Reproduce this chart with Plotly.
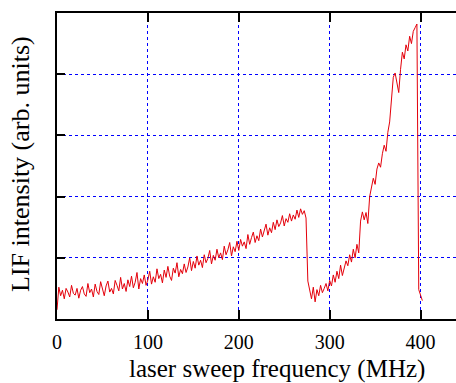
import plotly.graph_objects as go

# laser sweep frequency (MHz), 2 MHz steps
freq = list(range(0, 404, 2))

# LIF intensity (arb. units)
lif = [
    0.15, 0.52, 0.38, 0.47, 0.33, 0.50, 0.44, 0.36, 0.55, 0.42,
    0.39, 0.50, 0.34, 0.47, 0.53, 0.41, 0.37, 0.58, 0.43, 0.49,
    0.36, 0.57, 0.45, 0.40, 0.61, 0.48, 0.38, 0.54, 0.62, 0.44,
    0.50, 0.41, 0.63, 0.55, 0.46, 0.68, 0.49, 0.58, 0.45, 0.64,
    0.53, 0.70, 0.51, 0.60, 0.76, 0.49, 0.66, 0.58, 0.72, 0.55,
    0.64, 0.78, 0.57, 0.69, 0.60, 0.82, 0.66, 0.73, 0.59, 0.80,
    0.68, 0.86, 0.70, 0.63, 0.83, 0.75, 0.92, 0.69, 0.81, 0.74,
    0.90, 0.76, 0.85, 1.00, 0.79, 0.94, 0.83, 1.03, 0.88, 0.96,
    0.84, 1.05, 0.92, 0.99, 1.12, 0.90, 1.04, 0.96, 1.14, 1.00,
    1.08, 0.97, 1.19, 1.05, 1.13, 1.25, 1.03, 1.18, 1.10, 1.27,
    1.12, 1.30, 1.19, 1.26, 1.15, 1.38, 1.22, 1.33, 1.42, 1.25,
    1.36, 1.28, 1.47, 1.34, 1.43, 1.55, 1.37, 1.49, 1.41, 1.58,
    1.46, 1.62, 1.51, 1.57, 1.69, 1.52, 1.64, 1.58, 1.72, 1.60,
    1.70, 1.63, 1.78, 1.66, 1.80, 1.71, 1.77, 1.65, 0.62, 0.44,
    0.33, 0.52, 0.28, 0.48, 0.38, 0.55, 0.43, 0.50, 0.58, 0.46,
    0.63, 0.54, 0.72, 0.60, 0.78, 0.66, 0.88, 0.71, 0.82, 0.95,
    0.87, 1.05, 0.93, 1.14, 1.00, 1.22, 1.08, 1.60, 1.75, 1.62,
    1.74, 1.56, 2.00, 2.14, 2.30, 2.20, 2.45, 2.55, 2.48, 2.70,
    2.84, 2.74, 3.05, 3.22, 3.55, 3.95, 4.02, 3.85, 3.70, 4.08,
    4.36, 4.25, 4.48, 4.38, 4.62, 4.50, 4.70, 4.76, 4.82, 0.48,
    0.38, 0.30,
]

x_ticks = [0, 100, 200, 300, 400]
y_ticks = [0, 1, 2, 3, 4, 5]
x_title = "laser sweep frequency (MHz)"
y_title = "LIF intensity (arb. units)"

font_family = "Liberation Serif"

fig = go.Figure()
fig.add_trace(go.Scatter(
    x=freq, y=lif, mode="lines",
    line=dict(color="#e4000a", width=1),
    showlegend=False, hoverinfo="skip",
))

fig.update_layout(
    width=456, height=383,
    margin=dict(l=57, r=0, t=13, b=64),
    paper_bgcolor="white", plot_bgcolor="white",
    font=dict(family=font_family, color="black"),
)

fig.update_xaxes(
    range=[0, 439],
    tickvals=x_ticks,
    ticks="inside", ticklen=9, tickwidth=2, tickcolor="black",
    showline=True, linecolor="black", linewidth=2, mirror="ticks",
    showgrid=True, gridcolor="#0000ff", gridwidth=1, griddash="dot",
    zeroline=False,
    tickfont=dict(family=font_family, size=20, color="black"),
    ticklabelstandoff=4,
)

fig.update_yaxes(
    range=[0, 5],
    tickvals=y_ticks,
    showticklabels=False,
    ticks="inside", ticklen=8, tickwidth=2, tickcolor="black",
    showline=True, linecolor="black", linewidth=2, mirror=False,
    showgrid=True, gridcolor="#0000ff", gridwidth=1, griddash="dot",
    zeroline=False,
)

fig.add_annotation(
    text=x_title, xref="paper", yref="paper",
    x=0.551, y=-0.163, xanchor="center", yanchor="middle",
    showarrow=False, font=dict(family=font_family, size=25, color="black"),
)
fig.add_annotation(
    text=y_title, xref="paper", yref="paper",
    x=-0.09, y=0.507, xanchor="center", yanchor="middle", textangle=-90,
    showarrow=False, font=dict(family=font_family, size=26, color="black"),
)

fig.write_html("out.html")
